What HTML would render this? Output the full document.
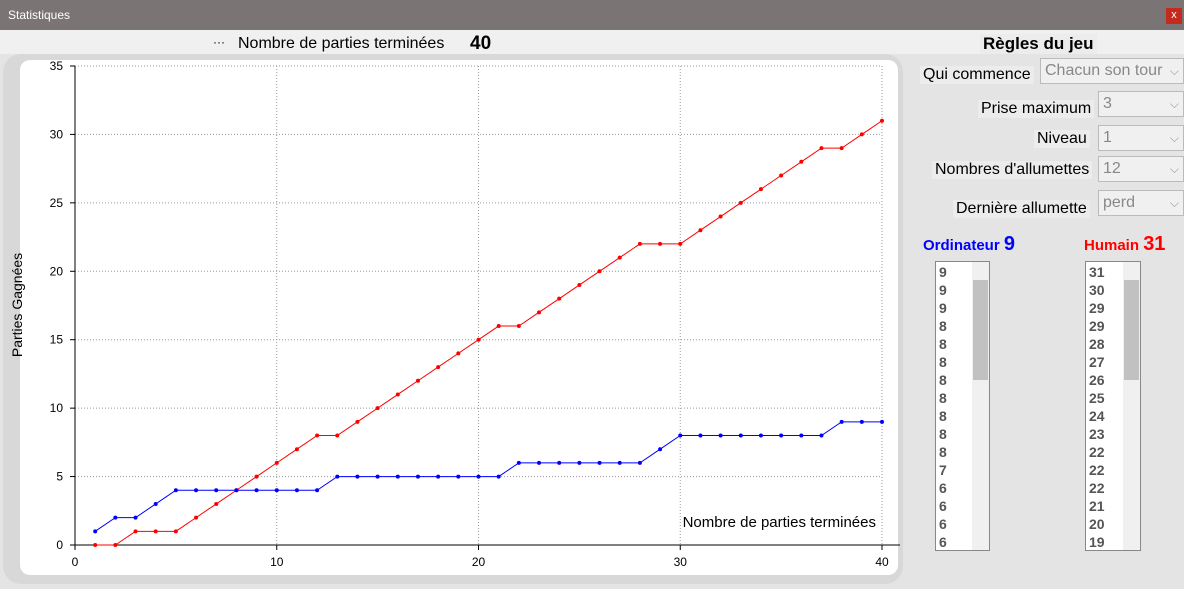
<!DOCTYPE html>
<html><head><meta charset="utf-8"><style>
body{margin:0;width:1184px;height:589px;overflow:hidden;background:#e4e4e4;font-family:"Liberation Sans",sans-serif;position:relative}
.abs{position:absolute}
.lbl{position:absolute;font-size:16px;color:#000;background:#ececec;padding:0 3px}
.combo{position:absolute;height:26px;border:1px solid #bbb;background:#f0f0f0;color:#888;font-size:16px;line-height:24px;padding-left:4px;box-sizing:border-box}
.combo span{position:absolute;right:4px;top:0;color:#999;font-size:12px}
.list{position:absolute;background:#fff;border:1px solid #888;font-size:14px;font-weight:bold;color:#555;line-height:18px;box-sizing:border-box;overflow:hidden}
.list .items{padding-left:3px;padding-top:1px}
.sb{position:absolute;right:0;top:0;width:17px;height:100%;background:#f0f0f0}
.thumb{position:absolute;right:1px;top:18px;width:15px;height:100px;background:#c1c1c1}
</style></head><body>
<div class="abs" style="left:0;top:0;width:1184px;height:30px;background:#7b7474"></div>
<div class="abs" style="left:8px;top:8px;color:#fff;font-size:12px">Statistiques</div>
<div class="abs" style="left:1166px;top:8px;width:16px;height:16px;background:#c42b1c;color:#fff;font-size:11px;text-align:center;line-height:15px">x</div>
<div class="abs" style="left:0;top:30px;width:1184px;height:24px;background:#f0f0f0"></div>
<div class="abs" style="left:213px;top:35px;font-size:12px">···</div>
<div class="abs" style="left:238px;top:35px;font-size:16px">Nombre de parties terminées</div>
<div class="abs" style="left:470px;top:33px;font-size:19px;font-weight:bold">40</div>
<div class="abs" style="left:3px;top:54px;width:900px;height:530px;background:#d8d8d8;border-radius:18px"></div>
<div class="abs" style="left:20px;top:60px;width:878px;height:515px;background:#fff;border-radius:10px"></div>
<svg class="abs" style="left:0;top:0" width="1184" height="589">
<g id="g"></g>
</svg>
<div class="lbl" style="left:980px;top:34px;font-weight:bold;font-size:17px">Règles du jeu</div>
<div class="lbl" style="left:920px;top:66px">Qui commence</div>
<div class="combo" style="left:1040px;top:58px;width:144px">Chacun son tour<span>⌵</span></div>
<div class="lbl" style="left:978px;top:100px">Prise maximum</div>
<div class="combo" style="left:1098px;top:91px;width:86px">3<span>⌵</span></div>
<div class="lbl" style="left:1034px;top:130px">Niveau</div>
<div class="combo" style="left:1098px;top:125px;width:86px">1<span>⌵</span></div>
<div class="lbl" style="left:932px;top:161px">Nombres d'allumettes</div>
<div class="combo" style="left:1098px;top:156px;width:86px">12<span>⌵</span></div>
<div class="lbl" style="left:953px;top:200px">Dernière allumette</div>
<div class="combo" style="left:1098px;top:190px;width:86px">perd<span>⌵</span></div>
<div class="abs" style="left:923px;top:233px;color:#00f;font-weight:bold;font-size:15px">Ordinateur <span style="font-size:20px">9</span></div>
<div class="abs" style="left:1084px;top:233px;color:#f00;font-weight:bold;font-size:15px">Humain <span style="font-size:20px">31</span></div>
<div class="list" style="left:935px;top:261px;width:55px;height:290px"><div class="items" id="l1"></div><div class="sb"><div class="thumb"></div></div></div>
<div class="list" style="left:1085px;top:261px;width:56px;height:290px"><div class="items" id="l2"></div><div class="sb"><div class="thumb"></div></div></div>
<script>
const games=[1,2,3,4,5,6,7,8,9,10,11,12,13,14,15,16,17,18,19,20,21,22,23,24,25,26,27,28,29,30,31,32,33,34,35,36,37,38,39,40];
const red=[0,0,1,1,1,2,3,4,5,6,7,8,8,9,10,11,12,13,14,15,16,16,17,18,19,20,21,22,22,22,23,24,25,26,27,28,29,29,30,31];
const blue=[1,2,2,3,4,4,4,4,4,4,4,4,5,5,5,5,5,5,5,5,5,6,6,6,6,6,6,6,7,8,8,8,8,8,8,8,8,9,9,9];
const xTicks=[0,10,20,30,40];
const yTicks=[0,5,10,15,20,25,30,35];
const X=v=>75+v*20.175, Y=v=>545-v*13.686;
const NS="http://www.w3.org/2000/svg", g=document.getElementById('g');
function mk(t,a){const e=document.createElementNS(NS,t);for(const k in a)e.setAttribute(k,a[k]);g.appendChild(e);return e;}
yTicks.forEach(v=>{
 if(v>0){const l=mk('line',{x1:75,x2:882,y1:Y(v),y2:Y(v),stroke:'#999','stroke-dasharray':'1,2'});
 
 }
 mk('line',{x1:70,x2:75,y1:Y(v),y2:Y(v),stroke:'#000'});
 const t=mk('text',{x:63,y:Y(v)+4,'text-anchor':'end','font-size':12});t.textContent=v;
 
 
});
xTicks.forEach(v=>{
 if(v>0){const l=mk('line',{x1:X(v),x2:X(v),y1:66,y2:545,stroke:'#999','stroke-dasharray':'1,2'});
 
 }
 mk('line',{x1:X(v),x2:X(v),y1:545,y2:550,stroke:'#000'});
 const t=mk('text',{x:X(v),y:566,'text-anchor':'middle','font-size':12});t.textContent=v;
 
 
});
mk('line',{x1:75,x2:75,y1:66,y2:545,stroke:'#000'});
mk('line',{x1:75,x2:900,y1:545,y2:545,stroke:'#000'});
const yt=mk('text',{x:0,y:0,transform:'translate(22,305) rotate(-90)','text-anchor':'middle','font-size':14});yt.textContent='Parties Gagnées';


const xt=mk('text',{x:876,y:527,'text-anchor':'end','font-size':15});xt.textContent='Nombre de parties terminées';


[[red,'#f00','human'],[blue,'#00f','computer']].forEach(([s,c,n])=>{
 const p=mk('polyline',{points:games.map((x,i)=>X(x)+','+Y(s[i])).join(' '),fill:'none',stroke:c,'stroke-width':1});
 
 
 games.forEach((x,i)=>{const d=mk('circle',{cx:X(x),cy:Y(s[i]),r:2,fill:c});
 
 });
});
const l1=document.getElementById('l1'),l2=document.getElementById('l2');
for(let i=39;i>=24;i--){
 const a=document.createElement('div');a.textContent=blue[i];
 
 
 l1.appendChild(a);
 const b=document.createElement('div');b.textContent=red[i];
 
 
 l2.appendChild(b);
}
</script>
</body></html>
